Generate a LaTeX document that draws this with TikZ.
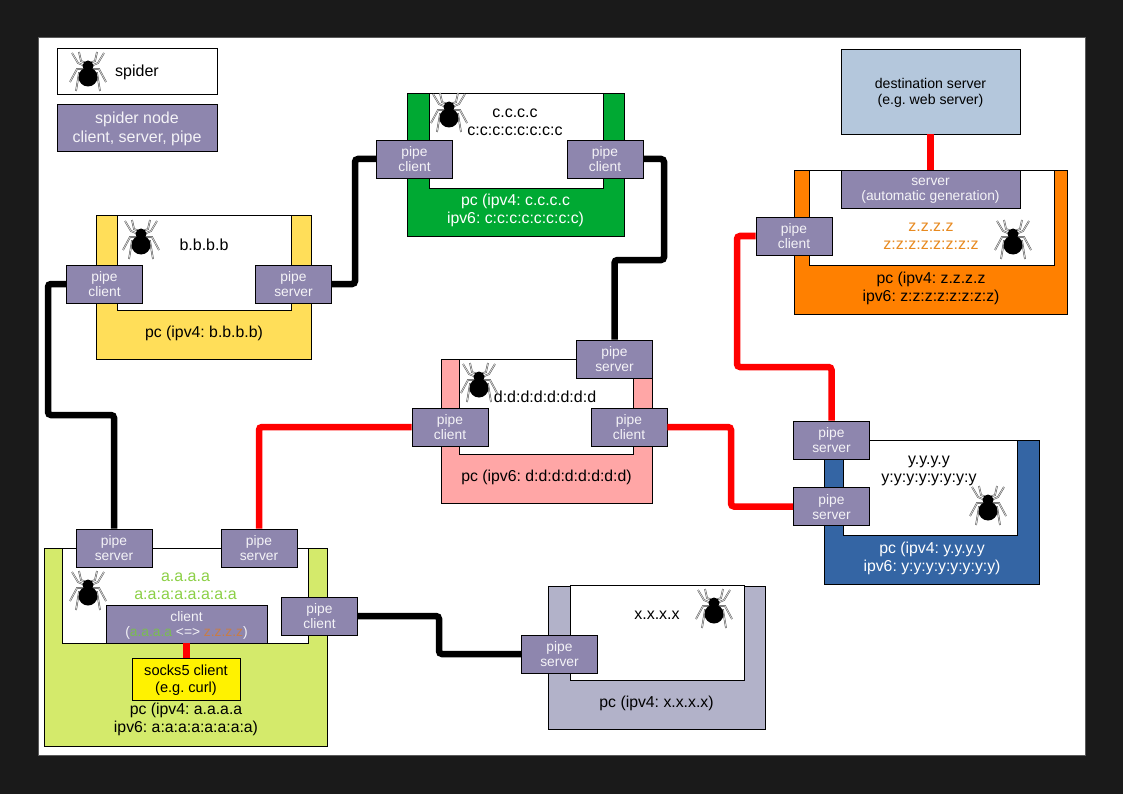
\documentclass[tikz,border=0pt]{standalone}
\usepackage{fontspec}
\setmainfont{Liberation Sans}
\usetikzlibrary{positioning, calc}
\definecolor{pagebg}{RGB}{26,26,26}
\definecolor{pagerim}{RGB}{90,90,90}
\definecolor{nodepurple}{RGB}{142,134,174}
\definecolor{pcyellow}{RGB}{255,222,89}
\definecolor{pcgreen}{RGB}{0,169,51}
\definecolor{pcpink}{RGB}{255,166,166}
\definecolor{pcorange}{RGB}{255,128,0}
\definecolor{pcblue}{RGB}{52,101,164}
\definecolor{pcgrey}{RGB}{178,178,201}
\definecolor{pclime}{RGB}{212,234,107}
\definecolor{destblue}{RGB}{180,199,220}
\definecolor{textgreen}{RGB}{140,208,70}
\definecolor{textorange}{RGB}{232,138,32}
\definecolor{clientgreen}{RGB}{122,190,80}
\definecolor{clientorange}{RGB}{200,125,70}
\tikzset{
  % Computer frame (parameterized by color)
  pcframe/.style={
    rectangle, draw=black, fill=#1, line width=0.8pt, inner sep=0pt
  },
  innerbox/.style={
    rectangle, draw=black, fill=white, line width=0.9pt, inner sep=0pt,
    minimum width=174pt, minimum height=95pt
  },
  % Purple spider node
  spidernode/.style={
    rectangle, draw=black, fill=nodepurple, line width=0.9pt, inner sep=0pt,
    text=white!90!nodepurple, align=center, text depth=0pt,
    font=\fontsize{13.8}{15}\selectfont\frenchspacing
  },
  pipebox/.style={spidernode, minimum width=76pt, minimum height=38pt},
  pclabel/.style={inner sep=0pt, align=center, font=\fontsize{15.8}{18}\selectfont\frenchspacing},
  addrlabel/.style={inner sep=0pt, align=center, font=\fontsize{16}{18}\selectfont},
  blackpipe/.style={draw=black, line width=6.5pt, rounded corners=3pt},
  redpipe/.style={draw=red, line width=6.5pt, rounded corners=3pt},
  spiderleg/.style={draw=black!70, double=gray!30, line width=0.45pt, double distance=0.8pt},
  spider/.pic={
    \foreach \s in {1,-1} {
      \draw[spiderleg] (\s*2,-9) -- (\s*7,-11) -- (\s*9,-20);
      \draw[spiderleg] (\s*3,-6) -- (\s*10,-9) -- (\s*16,-19);
      \draw[spiderleg] (\s*4,-3) -- (\s*11,-3) -- (\s*18,10);
      \draw[spiderleg] (\s*3,0) -- (\s*9,1) -- (\s*12,19);
    }
    \fill[black] (0,-6) circle (5.5);
    \fill[black] (0,5) circle (9.5);
  }
}
\begin{document}
\begin{tikzpicture}[x=1pt, y=-1pt]
  \useasboundingbox (0,0) rectangle (1123,794);
  \fill[pagebg] (0,0) rectangle (1123,794);
  \draw[pagerim, fill=white, line width=1pt] (38,38) rectangle (1085,755);

  % Legend
  \node[rectangle, draw=black, fill=white, line width=0.9pt, minimum width=160pt, minimum height=46pt, font=\fontsize{16}{18}\selectfont, text depth=0pt] (legendspider) at (137,71) {spider};
  \pic (spiderlegend) at (88,72) {spider};
  \node[spidernode, minimum width=160pt, minimum height=47pt, font=\fontsize{16}{19}\selectfont, text depth=-1.5pt] (legendnode) at (137,127.5) {spider node\\client, server, pipe};

  % PC b
  \node[pcframe=pcyellow, minimum width=215.5pt, minimum height=144pt] (pcb) at (204,287) {};
  \node[innerbox] (innerb) at (204,262.5) {};
  \pic (spiderb) at (141,240) {spider};
  \node[addrlabel] (addrb) at (204,245) {b.b.b.b};
  \node[pclabel, above=18pt of pcb.south] (labelb) {pc (ipv4: b.b.b.b)};
  \node[pipebox] (bclient) at (104.5,284) {pipe\\client};
  \node[pipebox] (bserver) at (293.5,284) {pipe\\server};

  % PC c
  \node[pcframe=pcgreen, minimum width=217pt, minimum height=143pt] (pcc) at (515.5,164.5) {};
  \node[innerbox] (innerc) at (516.5,140.5) {};
  \pic (spiderc) at (449,113) {spider};
  \node[addrlabel] (addrc) at (515,122) {c.c.c.c\\c:c:c:c:c:c:c:c};
  \node[pclabel, text=white, above=9pt of pcc.south] (labelc) {pc (ipv4: c.c.c.c\\ipv6: c:c:c:c:c:c:c:c)};
  \node[pipebox] (cleft) at (414.5,159) {pipe\\client};
  \node[pipebox] (cright) at (605,159) {pipe\\client};

  % PC d
  \node[pcframe=pcpink, minimum width=211pt, minimum height=144pt] (pcd) at (546.5,431) {};
  \node[innerbox] (innerd) at (546.5,406.5) {};
  \pic (spiderd) at (479,383) {spider};
  \node[addrlabel] (addrd) at (545,397) {d:d:d:d:d:d:d:d};
  \node[pclabel, above=18pt of pcd.south] (labeld) {pc (ipv6: d:d:d:d:d:d:d:d)};
  \node[pipebox] (dtop) at (614.5,359) {pipe\\server};
  \node[pipebox] (dleft) at (450,427) {pipe\\client};
  \node[pipebox] (dright) at (629,427) {pipe\\client};

  % Destination and PC z
  \node[rectangle, draw=black, fill=destblue, line width=0.9pt, minimum width=179pt, minimum height=85pt, align=center, text depth=-1.5pt, font=\fontsize{14.1}{16}\selectfont\frenchspacing] (dest) at (930.5,91.5) {destination server\\(e.g. web server)};
  \node[pcframe=pcorange, minimum width=273pt, minimum height=144pt] (pcz) at (931,242) {};
  \node[innerbox, minimum width=245pt] (innerz) at (931.5,217.5) {};
  \node[spidernode, minimum width=179pt, minimum height=38pt] (zserver) at (930.5,189) {server\\(automatic generation)};
  \pic (spiderz) at (1013,240) {spider};
  \node[addrlabel, text=textorange] (addrz) at (931,236) {z.z.z.z\\z:z:z:z:z:z:z:z};
  \node[pclabel, above=9pt of pcz.south] (labelz) {pc (ipv4: z.z.z.z\\ipv6: z:z:z:z:z:z:z:z)};
  \node[pipebox] (zclient) at (794,236) {pipe\\client};

  % PC y
  \node[pcframe=pcblue, minimum width=214.5pt, minimum height=144pt] (pcy) at (932,512) {};
  \node[innerbox] (innery) at (930,487.5) {};
  \pic (spidery) at (988,506) {spider};
  \node[addrlabel] (addry) at (929,470.5) {y.y.y.y\\y:y:y:y:y:y:y:y};
  \node[pclabel, text=white, above=9pt of pcy.south] (labely) {pc (ipv4: y.y.y.y\\ipv6: y:y:y:y:y:y:y:y)};
  \node[pipebox] (ytop) at (831.5,440) {pipe\\server};
  \node[pipebox] (ybottom) at (831.5,506.5) {pipe\\server};

  % PC x
  \node[pcframe=pcgrey, minimum width=217pt, minimum height=143pt] (pcx) at (656.5,657.5) {};
  \node[innerbox] (innerx) at (657,633) {};
  \pic (spiderx) at (714,609) {spider};
  \node[addrlabel] (addrx) at (657,615) {x.x.x.x};
  \node[pclabel, above=18pt of pcx.south] (labelx) {pc (ipv4: x.x.x.x)};
  \node[pipebox] (xserver) at (559.5,654) {pipe\\server};

  % PC a
  \node[pcframe=pclime, minimum width=283pt, minimum height=198.5pt] (pca) at (186,647.5) {};
  \node[innerbox, minimum width=246pt] (innera) at (185,595.5) {};
  \pic (spidera) at (88,591) {spider};
  \node[addrlabel, text=textgreen] (addra) at (185.5,586.5) {a.a.a.a\\a:a:a:a:a:a:a:a};
  \node[spidernode, minimum width=161pt, minimum height=38pt] (aclient) at (186.5,624) {client\\(\textcolor{clientgreen}{a.a.a.a} <=> \textcolor{clientorange}{z.z.z.z})};
  \node[rectangle, draw=black, fill=yellow, line width=0.9pt, minimum width=108pt, minimum height=42pt, align=center, text depth=1.5pt, font=\fontsize{14.6}{17}\selectfont\frenchspacing] (socks) at (186,679) {socks5 client\\(e.g. curl)};
  \node[pclabel, above=11pt of pca.south] (labela) {pc (ipv4: a.a.a.a\\ipv6: a:a:a:a:a:a:a:a)};
  \node[pipebox] (aleft) at (114,548) {pipe\\server};
  \node[pipebox] (aright) at (259,548) {pipe\\server};
  \node[pipebox] (aclientpipe) at (319.5,616) {pipe\\client};

  % Bends
  \coordinate (bendab) at (48,415);
  \coordinate (bendbc) at (355,220);
  \coordinate (bendcd) at (664,260);
  \coordinate (bendax) at (439,635);
  \coordinate (benddy) at (731,460);
  \coordinate (bendyz) at (737,367);

  % Black links
  \draw[blackpipe] (bclient.west) -| (bendab) -| (aleft.north);
  \draw[blackpipe] (bserver.east) -| (bendbc) |- (cleft.west);
  \draw[blackpipe] (cright.east) -| (bendcd) -| (dtop.north);
  \draw[blackpipe] (aclientpipe.east) -| (bendax) |- (xserver.west);

  % Red links
  \draw[redpipe] (aright.north) |- (dleft.west);
  \draw[redpipe] (dright.east) -| (benddy) |- (ybottom.west);
  \draw[redpipe] (ytop.north) |- (bendyz) |- (zclient.west);
  \draw[redpipe] (dest.south) -- (zserver.north);
  \draw[redpipe] (aclient.south) -- (aclient.south |- socks.north);
\end{tikzpicture}
\end{document}
